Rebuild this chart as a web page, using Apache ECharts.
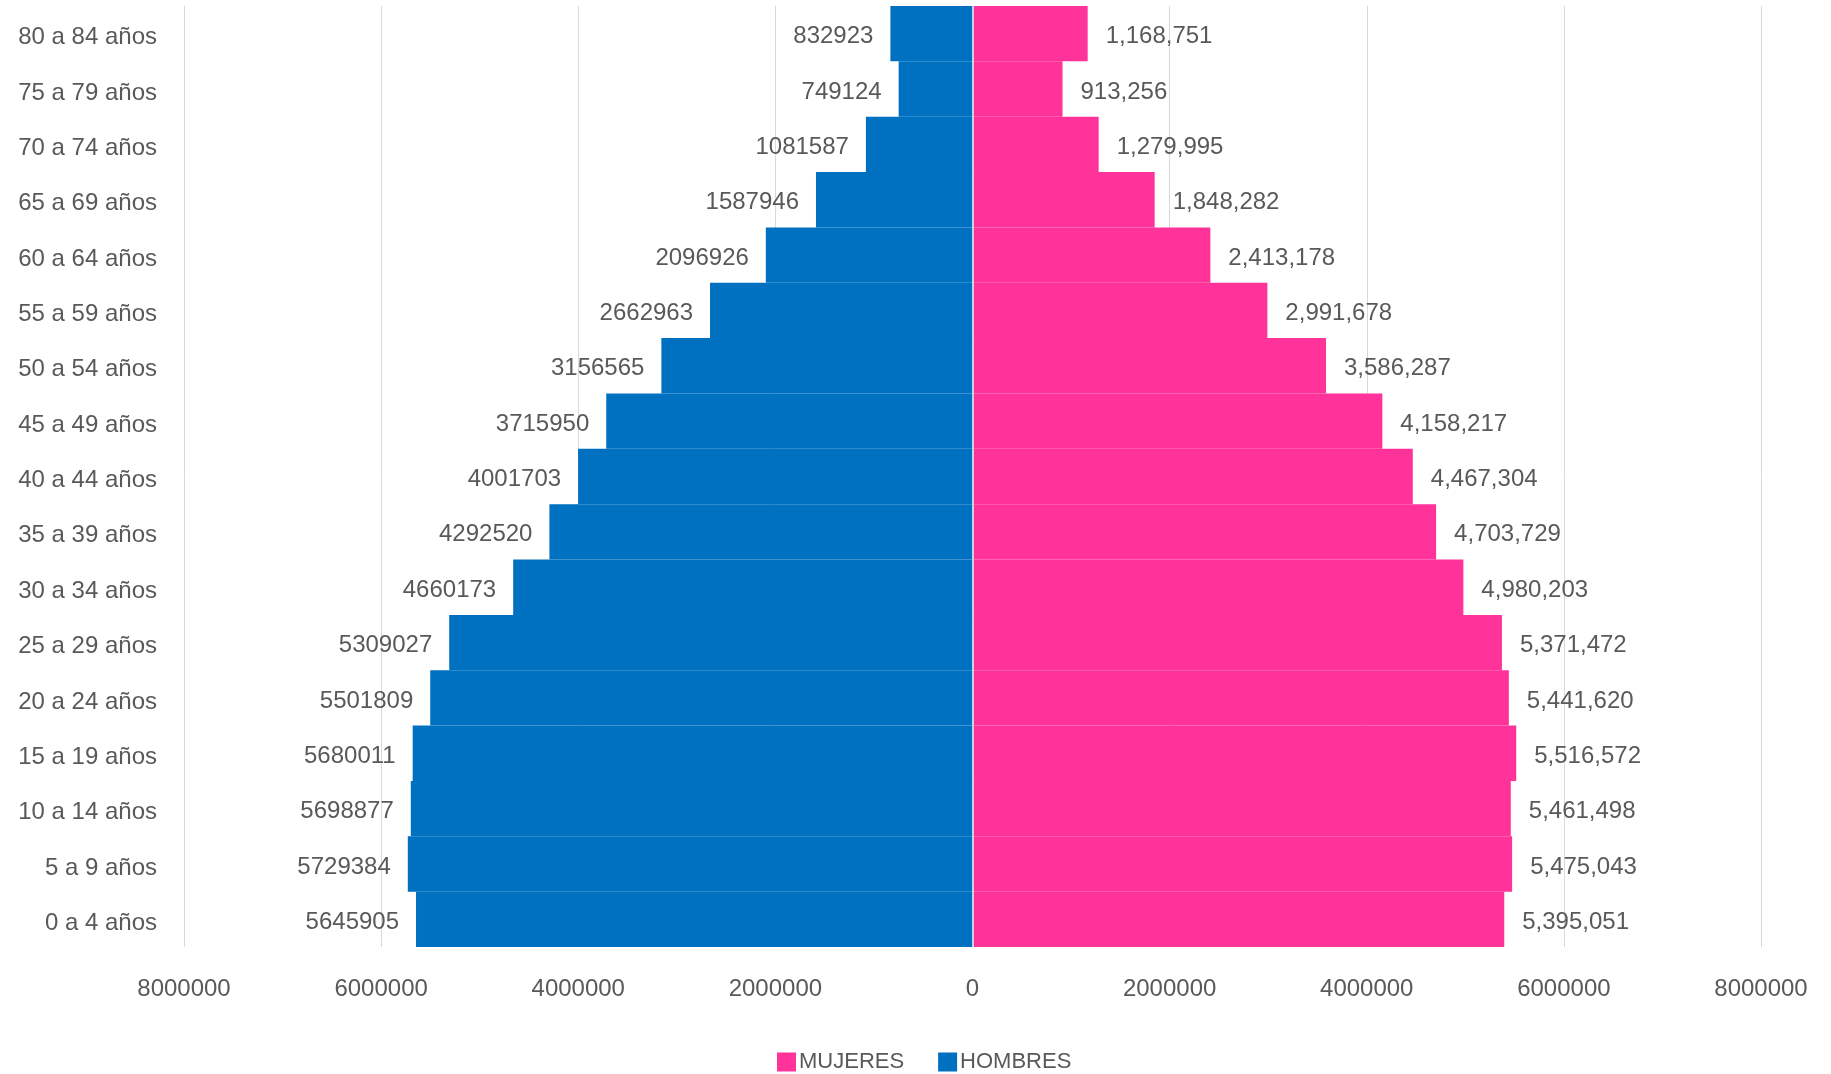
<!DOCTYPE html>
<html>
<head>
<meta charset="utf-8">
<script src="https://cdn.jsdelivr.net/npm/echarts@6/dist/echarts.min.js"></script>
<style>html,body{margin:0;padding:0;background:#fff}#c{width:1831px;height:1074px}</style>
</head>
<body>
<div id="c"></div>
<script>
const categories = ['0 a 4 años','5 a 9 años','10 a 14 años','15 a 19 años','20 a 24 años','25 a 29 años','30 a 34 años','35 a 39 años','40 a 44 años','45 a 49 años','50 a 54 años','55 a 59 años','60 a 64 años','65 a 69 años','70 a 74 años','75 a 79 años','80 a 84 años'];
const hombres = [5645905,5729384,5698877,5680011,5501809,5309027,4660173,4292520,4001703,3715950,3156565,2662963,2096926,1587946,1081587,749124,832923];
const mujeres = [5395051,5475043,5461498,5516572,5441620,5371472,4980203,4703729,4467304,4158217,3586287,2991678,2413178,1848282,1279995,913256,1168751];
const axisTicks = [-8000000,-6000000,-4000000,-2000000,0,2000000,4000000,6000000,8000000];

const FONT = 'Liberation Sans';
const TXT = '#595959';
const chart = echarts.init(document.getElementById('c'));
chart.setOption({
  animation: false,
  textStyle: {fontFamily: FONT},
  grid: {left: 184, right: 70, top: 6, bottom: 127, containLabel: false},
  legend: {
    data: ['MUJERES','HOMBRES'],
    left: 772, top: 1046,
    itemWidth: 17, itemHeight: 17, itemGap: 34,
    icon: 'rect',
    textStyle: {fontSize: 22, color: TXT, fontFamily: FONT, padding: [0,0,0,-1]}
  },
  xAxis: {
    type: 'value',
    min: axisTicks[0], max: axisTicks[axisTicks.length-1], interval: 2000000,
    axisLine: {show: false}, axisTick: {show: false},
    splitLine: {show: true, lineStyle: {color: '#d9d9d9', width: 1}},
    axisLabel: {fontSize: 24, color: TXT, margin: 30, formatter: v => String(Math.abs(v))}
  },
  yAxis: {
    type: 'category', data: categories,
    axisLine: {show: false}, axisTick: {show: false},
    splitLine: {show: false}, splitArea: {show: false},
    axisLabel: {color: TXT, margin: 27, formatter: v => '{a|' + v + '}',
      rich: {a: {fontSize: 24, color: TXT, fontFamily: FONT, padding: [8,0,0,0]}}}
  },
  series: [
    {
      name: 'HOMBRES', type: 'bar',
      data: hombres.map(v => -v),
      barCategoryGap: '0%', barGap: '-100%',
      itemStyle: {color: '#0070C0', borderColor: '#0070C0', borderWidth: 2},
      label: {show: true, position: 'left', distance: 17, fontSize: 24, color: TXT, offset: [0,3],
        formatter: p => String(Math.abs(p.value))}
    },
    {
      name: 'MUJERES', type: 'bar',
      data: mujeres,
      barCategoryGap: '0%', barGap: '-100%',
      itemStyle: {color: '#FF3399', borderColor: '#FF3399', borderWidth: 2},
      label: {show: true, position: 'right', distance: 18, fontSize: 24, color: TXT, offset: [0,3],
        formatter: p => p.value.toLocaleString('en-US')},
      markLine: {
        silent: true, symbol: 'none', label: {show: false},
        lineStyle: {color: '#c9d2e3', width: 2, type: 'solid'},
        data: [{xAxis: 0}]
      }
    }
  ]
});
</script>
</body>
</html>
